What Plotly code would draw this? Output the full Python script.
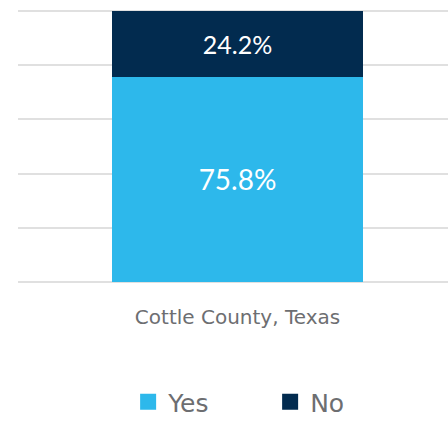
import plotly.graph_objects as go

categories = ["Cottle County, Texas"]
yes_values = [75.8]
no_values = [24.2]
series_names = ["Yes", "No"]
colors = ["#2DB8EB", "#022B4F"]

fig = go.Figure()
fig.add_trace(go.Bar(x=categories, y=yes_values, name=series_names[0],
                     marker=dict(color=colors[0], line=dict(width=0)),
                     text=[f"{v}%" for v in yes_values], textposition="inside",
                     insidetextanchor="middle",
                     textfont=dict(color="white", size=28, family="Lato"),
                     showlegend=False, width=0.584))
fig.add_trace(go.Bar(x=categories, y=no_values, name=series_names[1],
                     marker=dict(color=colors[1], line=dict(width=0)),
                     text=[f"{v}%" for v in no_values], textposition="inside",
                     insidetextanchor="middle",
                     textfont=dict(color="white", size=25, family="Lato"),
                     showlegend=False, width=0.584))
for name, c in zip(series_names, colors):
    fig.add_trace(go.Scatter(x=[None], y=[None], mode="markers", name=name,
                             marker=dict(symbol="square", size=16, color=c)))

fig.update_layout(
    width=448, height=421,
    margin=dict(l=18, r=0, t=10, b=138, pad=0),
    barmode="stack",
    plot_bgcolor="white", paper_bgcolor="white",
    font=dict(family="DejaVu Sans", color="#6D6E71"),
    legend=dict(orientation="h", xref="container", x=0.286, xanchor="left",
                yref="container", y=0.045, yanchor="middle",
                font=dict(size=25, family="DejaVu Sans", color="#6D6E71"),
                entrywidth=97, entrywidthmode="pixels", traceorder="normal"),
    xaxis=dict(type="category", range=[-0.5105, 0.4895], showgrid=False,
               zeroline=False, showline=False, ticks="",
               tickfont=dict(size=20, color="#6D6E71", family="DejaVu Sans"),
               ticklabelstandoff=20),
    yaxis=dict(range=[-0.4, 100.4], tickvals=[0, 20, 40, 60, 80, 100],
               showgrid=True, gridcolor="#E0E0E0",
               gridwidth=2, zeroline=False, showticklabels=False, showline=False),
)

fig.write_html("out.html")
